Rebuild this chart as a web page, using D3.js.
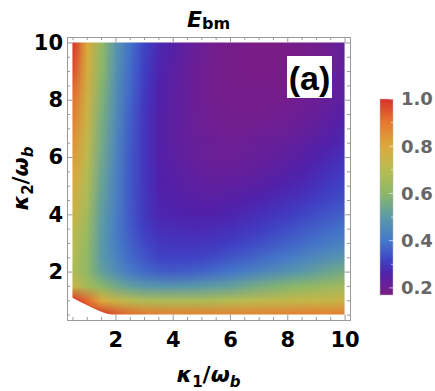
<!DOCTYPE html>
<html>
<head>
<meta charset="utf-8">
<script src="https://cdn.jsdelivr.net/npm/d3@7"></script>
<style>
  body { margin: 0; background: #fff; }
  svg { display: block; }
</style>
</head>
<body>
<div id="chart"></div>
<script>
// grid: columns are kappa1, rows are kappa2 (top row first)
const kappa1 = [0.5, 1, 1.5, 2, 2.5, 3, 3.5, 4, 4.5, 5, 5.5, 6, 6.5, 7, 7.5, 8, 8.5, 9, 9.5, 10];
const kappa2 = [10, 9.5, 9, 8.5, 8, 7.5, 7, 6.5, 6, 5.5, 5, 4.5, 4, 3.5, 3, 2.5, 2, 1.5, 1, 0.5];
const ebm = [
  [1.00, 0.80, 0.62, 0.49, 0.39, 0.32, 0.275, 0.25, 0.225, 0.205, 0.19, 0.18, 0.175, 0.17, 0.17, 0.175, 0.18, 0.19, 0.205, 0.23],
  [0.98, 0.79, 0.61, 0.485, 0.385, 0.315, 0.27, 0.245, 0.225, 0.205, 0.19, 0.18, 0.175, 0.17, 0.17, 0.175, 0.18, 0.19, 0.205, 0.23],
  [0.96, 0.78, 0.60, 0.48, 0.38, 0.31, 0.265, 0.24, 0.22, 0.20, 0.19, 0.18, 0.175, 0.175, 0.175, 0.18, 0.185, 0.195, 0.21, 0.235],
  [0.93, 0.77, 0.59, 0.47, 0.375, 0.305, 0.26, 0.24, 0.22, 0.20, 0.19, 0.18, 0.18, 0.18, 0.18, 0.185, 0.19, 0.20, 0.215, 0.24],
  [0.91, 0.76, 0.58, 0.465, 0.37, 0.30, 0.26, 0.235, 0.22, 0.20, 0.19, 0.185, 0.185, 0.185, 0.185, 0.19, 0.20, 0.21, 0.225, 0.245],
  [0.89, 0.75, 0.57, 0.46, 0.365, 0.295, 0.255, 0.235, 0.22, 0.205, 0.195, 0.19, 0.19, 0.19, 0.195, 0.20, 0.21, 0.22, 0.235, 0.255],
  [0.87, 0.74, 0.56, 0.45, 0.36, 0.295, 0.255, 0.235, 0.22, 0.205, 0.20, 0.195, 0.195, 0.20, 0.205, 0.21, 0.22, 0.23, 0.245, 0.265],
  [0.85, 0.725, 0.555, 0.445, 0.355, 0.295, 0.255, 0.235, 0.225, 0.215, 0.21, 0.205, 0.21, 0.215, 0.22, 0.225, 0.235, 0.245, 0.26, 0.275],
  [0.83, 0.71, 0.545, 0.44, 0.35, 0.295, 0.255, 0.24, 0.225, 0.215, 0.21, 0.21, 0.215, 0.22, 0.225, 0.235, 0.245, 0.26, 0.275, 0.29],
  [0.81, 0.695, 0.535, 0.435, 0.35, 0.295, 0.26, 0.245, 0.235, 0.225, 0.22, 0.22, 0.225, 0.23, 0.24, 0.25, 0.26, 0.275, 0.29, 0.305],
  [0.79, 0.68, 0.53, 0.43, 0.35, 0.295, 0.26, 0.25, 0.24, 0.235, 0.23, 0.235, 0.24, 0.245, 0.255, 0.265, 0.275, 0.29, 0.305, 0.32],
  [0.77, 0.665, 0.52, 0.425, 0.35, 0.30, 0.265, 0.255, 0.25, 0.245, 0.245, 0.25, 0.255, 0.265, 0.275, 0.285, 0.295, 0.31, 0.325, 0.34],
  [0.75, 0.65, 0.51, 0.42, 0.35, 0.30, 0.27, 0.265, 0.26, 0.26, 0.26, 0.265, 0.275, 0.285, 0.295, 0.305, 0.32, 0.335, 0.35, 0.365],
  [0.72, 0.635, 0.505, 0.42, 0.355, 0.31, 0.285, 0.28, 0.275, 0.275, 0.28, 0.285, 0.295, 0.305, 0.32, 0.335, 0.35, 0.365, 0.38, 0.395],
  [0.70, 0.62, 0.50, 0.42, 0.365, 0.325, 0.30, 0.295, 0.295, 0.295, 0.30, 0.31, 0.32, 0.335, 0.35, 0.365, 0.38, 0.395, 0.415, 0.43],
  [0.69, 0.61, 0.50, 0.435, 0.38, 0.345, 0.32, 0.315, 0.315, 0.32, 0.33, 0.345, 0.36, 0.375, 0.39, 0.41, 0.43, 0.45, 0.47, 0.49],
  [0.68, 0.61, 0.52, 0.46, 0.41, 0.38, 0.36, 0.355, 0.36, 0.37, 0.385, 0.40, 0.42, 0.44, 0.46, 0.48, 0.50, 0.52, 0.54, 0.56],
  [0.74, 0.66, 0.60, 0.55, 0.515, 0.495, 0.485, 0.485, 0.49, 0.50, 0.51, 0.52, 0.54, 0.56, 0.575, 0.59, 0.605, 0.62, 0.635, 0.65],
  [1.00, 0.92, 0.80, 0.74, 0.70, 0.68, 0.67, 0.67, 0.67, 0.675, 0.68, 0.69, 0.70, 0.71, 0.72, 0.725, 0.73, 0.735, 0.74, 0.75],
  [1.00, 1.00, 1.00, 0.95, 0.92, 0.90, 0.89, 0.88, 0.88, 0.88, 0.88, 0.88, 0.88, 0.88, 0.885, 0.885, 0.89, 0.89, 0.89, 0.89]
];

// edge of the blank region in the lower left corner
const edgeK1 = [0.5, 0.8, 1.1, 1.4, 1.6, 1.8];
const edgeK2 = [1.09, 0.93, 0.78, 0.64, 0.56, 0.5];

const axisTicks = [2, 4, 6, 8, 10];
const barTicks = [0.2, 0.4, 0.6, 0.8, 1.0];
const barRange = [0.17, 1.0];
const panelLabel = "(a)";

const W = 435, H = 391;
const frame = { left: 67, right: 350, top: 37, bottom: 320 };
const pad = (10 - 0.5) * 0.02;

const svg = d3.select("#chart").append("svg")
  .attr("width", W)
  .attr("height", H)
  .style("font-family", "'DejaVu Sans', sans-serif");

svg.append("rect").attr("width", W).attr("height", H).attr("fill", "#fff");

const x = d3.scaleLinear().domain([0.5 - pad, 10 + pad]).range([frame.left, frame.right]);
const y = d3.scaleLinear().domain([0.5 - pad, 10 + pad]).range([frame.bottom, frame.top]);

// Mathematica-like rainbow
const color = d3.scaleLinear()
  .domain([0.17, 0.21, 0.26, 0.31, 0.4, 0.5, 0.6, 0.7, 0.8, 0.9, 1.0])
  .range(["#7a1c86", "#6b1f96", "#5021ab", "#403ec4", "#4478cb", "#5a9aa8", "#8cb868", "#b8bc50", "#dcaa3c", "#e6782f", "#d8302a"])
  .clamp(true);

// density image: one pixel per grid value, smoothed by the browser when scaled
const nx = kappa1.length, ny = kappa2.length;
const cnv = document.createElement("canvas");
cnv.width = nx; cnv.height = ny;
const ctx = cnv.getContext("2d");
const img = ctx.createImageData(nx, ny);
ebm.forEach((row, j) => {
  row.forEach((v, i) => {
    const c = d3.rgb(color(v));
    const k = (j * nx + i) * 4;
    img.data[k] = c.r; img.data[k + 1] = c.g; img.data[k + 2] = c.b; img.data[k + 3] = 255;
  });
});
ctx.putImageData(img, 0, 0);

const dx = (kappa1[1] - kappa1[0]) / 2;
const dy = (kappa2[0] - kappa2[1]) / 2;

const defs = svg.append("defs");
defs.append("clipPath").attr("id", "plotClip")
  .append("rect")
  .attr("x", x(d3.min(kappa1)))
  .attr("y", y(d3.max(kappa2)))
  .attr("width", x(d3.max(kappa1)) - x(d3.min(kappa1)))
  .attr("height", y(d3.min(kappa2)) - y(d3.max(kappa2)));

const plot = svg.append("g").attr("clip-path", "url(#plotClip)");

plot.append("image")
  .attr("href", cnv.toDataURL())
  .attr("x", x(d3.min(kappa1) - dx))
  .attr("y", y(d3.max(kappa2) + dy))
  .attr("width", x(d3.max(kappa1) + dx) - x(d3.min(kappa1) - dx))
  .attr("height", y(d3.min(kappa2) - dy) - y(d3.max(kappa2) + dy))
  .attr("preserveAspectRatio", "none")
  .style("image-rendering", "auto");

// blank corner (drawn unclipped so the clip edge leaves no coloured seam)
const edgePts = edgeK1.map((k, i) => [k, edgeK2[i]]);
const xLo = x.domain()[0], yLo = y.domain()[0];
const blank = [[xLo, edgeK2[0]], ...edgePts, [edgeK1[edgeK1.length - 1] + 0.05, edgeK2[edgeK2.length - 1]],
  [edgeK1[edgeK1.length - 1] + 0.05, yLo], [xLo, yLo]];
svg.append("path")
  .attr("d", d3.line().x(d => x(d[0])).y(d => y(d[1]))(blank) + "Z")
  .attr("fill", "#fff");

// frame and ticks
const minorTicks = d3.range(0.5, 10.01, 0.5).filter(t => !axisTicks.includes(t));
const tickColor = "#9a9a9a";

function styleAxis(g) {
  g.selectAll(".domain").attr("stroke", tickColor).attr("stroke-width", 1);
  g.selectAll(".tick line").attr("stroke", tickColor);
  g.selectAll(".tick text")
    .attr("fill", "#000")
    .attr("font-family", "'DejaVu Sans', sans-serif")
    .attr("font-weight", "bold")
    .attr("font-size", 21);
}

const axes = [
  { fn: d3.axisBottom, scale: x, t: `translate(0,${frame.bottom})`, labels: true },
  { fn: d3.axisTop, scale: x, t: `translate(0,${frame.top})`, labels: false },
  { fn: d3.axisLeft, scale: y, t: `translate(${frame.left},0)`, labels: true },
  { fn: d3.axisRight, scale: y, t: `translate(${frame.right},0)`, labels: false }
];

axes.forEach(a => {
  svg.append("g")
    .attr("transform", a.t)
    .call(a.fn(a.scale).tickValues(minorTicks).tickSize(-3).tickSizeOuter(0).tickFormat(""))
    .call(styleAxis);
  svg.append("g")
    .attr("transform", a.t)
    .call(a.fn(a.scale).tickValues(axisTicks).tickSize(-5.5).tickSizeOuter(0)
      .tickPadding(a.fn === d3.axisBottom ? 12 : 4)
      .tickFormat(a.labels ? d3.format("d") : ""))
    .call(styleAxis);
});

// title
const title = svg.append("text")
  .attr("x", (frame.left + frame.right) / 2)
  .attr("y", 27)
  .attr("text-anchor", "middle")
  .attr("font-weight", "bold")
  .attr("fill", "#000");
title.append("tspan").attr("font-style", "italic").attr("font-size", 22).text("E");
title.append("tspan").attr("font-size", 16).attr("dy", 2).text("bm");

// axis labels
function axisLabel(sel, sub) {
  sel.attr("text-anchor", "middle")
    .attr("font-weight", "bold")
    .attr("font-size", 22)
    .attr("fill", "#000");
  sel.append("tspan").attr("font-style", "italic").text("κ");
  sel.append("tspan").attr("font-size", 15).attr("dy", 5).text(sub);
  sel.append("tspan").attr("dy", -5).text("/");
  sel.append("tspan").attr("font-style", "italic").text("ω");
  sel.append("tspan").attr("font-style", "italic").attr("font-size", 15).attr("dy", 5).text("b");
}

svg.append("text")
  .attr("x", (frame.left + frame.right) / 2)
  .attr("y", 382)
  .call(axisLabel, "1");

svg.append("text")
  .attr("transform", `translate(28,${(frame.top + frame.bottom) / 2}) rotate(-90)`)
  .call(axisLabel, "2");

// panel label
const box = { x: 287, y: 56, w: 45, h: 42 };
svg.append("rect")
  .attr("x", box.x).attr("y", box.y)
  .attr("width", box.w).attr("height", box.h)
  .attr("fill", "#fff");
svg.append("text")
  .attr("x", box.x + box.w / 2)
  .attr("y", 90)
  .attr("text-anchor", "middle")
  .attr("font-family", "'Liberation Sans', Arial, sans-serif")
  .attr("font-weight", "bold")
  .attr("font-size", 34)
  .attr("fill", "#000")
  .text(panelLabel);

// colour bar
const cb = d3.scaleLinear().domain(barRange).range([295, 99]);
const grad = defs.append("linearGradient")
  .attr("id", "barGrad")
  .attr("x1", 0).attr("y1", 1).attr("x2", 0).attr("y2", 0);
d3.range(0, 1.0001, 0.025).forEach(t => {
  const v = barRange[0] + t * (barRange[1] - barRange[0]);
  grad.append("stop").attr("offset", t).attr("stop-color", color(v));
});

const barX = 380, barW = 13;
svg.append("rect")
  .attr("x", barX)
  .attr("y", cb(barRange[1]))
  .attr("width", barW)
  .attr("height", cb(barRange[0]) - cb(barRange[1]))
  .attr("fill", "url(#barGrad)")
  .attr("stroke", "#bbb")
  .attr("stroke-width", 0.5);

svg.append("g")
  .selectAll("line")
  .data(d3.range(0.2, 1.001, 0.1))
  .join("line")
  .attr("x1", (d, i) => barX + barW - (i % 2 === 0 ? 4 : 2))
  .attr("x2", barX + barW)
  .attr("y1", d => cb(d))
  .attr("y2", d => cb(d))
  .attr("stroke", "#fff")
  .attr("stroke-opacity", 0.6);

svg.append("g")
  .selectAll("text")
  .data(barTicks)
  .join("text")
  .attr("x", 401)
  .attr("y", d => cb(d))
  .attr("dy", "0.36em")
  .attr("font-weight", "bold")
  .attr("font-size", 18)
  .attr("fill", "#666")
  .text(d => d3.format(".1f")(d));
</script>
</body>
</html>
